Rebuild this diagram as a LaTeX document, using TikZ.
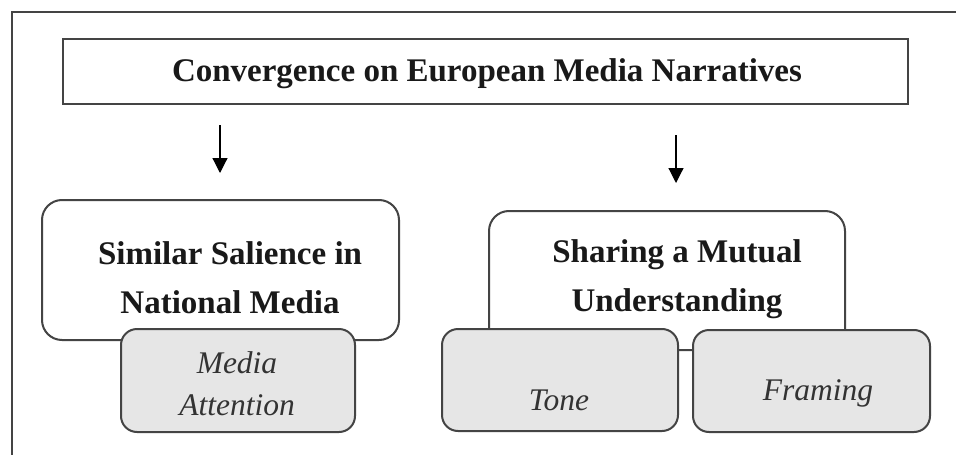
\documentclass[tikz,border=0pt]{standalone}
\usepackage{fontspec}
\setmainfont{Liberation Serif}
\usetikzlibrary{arrows.meta}
\definecolor{edge}{HTML}{444444}
\definecolor{panel}{HTML}{E6E6E6}
\tikzset{
  frame/.style={draw=edge, line width=2pt},
  titlebox/.style={draw=edge, line width=2.2pt, minimum width=845pt, minimum height=65pt, inner sep=0pt},
  mainbox/.style={draw=edge, line width=2pt, rounded corners=20pt, fill=white, inner sep=0pt},
  subbox/.style={draw=edge, line width=2pt, rounded corners=16pt, fill=panel, inner sep=0pt},
  boldtext/.style={font=\fontsize{33}{49}\selectfont\bfseries, align=center, text=black!90},
  itext/.style={font=\fontsize{31.5}{42}\selectfont\itshape, align=center, text=black!80},
  flow/.style={-{Triangle[width=15pt,length=15pt]}, line width=1.2pt, draw=black},
}
\begin{document}
\begin{tikzpicture}[x=1pt, y={(0,-1pt)}]
  \clip (0,0) rectangle (956,455);
  \fill[white] (0,0) rectangle (956,455);
  % outer frame, continuing past the right and bottom edges
  \draw[frame] (12,12) rectangle (1000,500);

  % heading
  \node[titlebox] (title) at (485.5,71.5) {};
  \node[boldtext] (titletext) at (487,74) {Convergence on European Media Narratives};

  % left branch
  \node[mainbox, minimum width=357pt, minimum height=140pt] (salience) at (220.5,270) {};
  \node[boldtext] (saliencetext) at (230,277.5) {Similar Salience in\\National Media};
  \node[subbox, minimum width=234pt, minimum height=103pt] (attention) at (238,380.5) {};
  \node[itext] (attentiontext) at (237,384) {Media\\Attention};

  % right branch
  \node[mainbox, minimum width=356pt, minimum height=139pt] (mutual) at (667,280.5) {};
  \node[boldtext] (mutualtext) at (677,279) {Sharing a Mutual\\Understanding};
  \node[subbox, minimum width=236pt, minimum height=102pt] (tone) at (560,380) {};
  \node[itext] (tonetext) at (559,400) {Tone};
  \node[subbox, minimum width=237pt, minimum height=102pt] (framing) at (811.5,381) {};
  \node[itext] (framingtext) at (818,393) {Framing};

  % arrows from the heading to each branch
  \coordinate (a1s) at (220,125);
  \coordinate (a1e) at (220,173);
  \coordinate (a2s) at (676,135);
  \coordinate (a2e) at (676,183);
  \draw[flow] (a1s) -- (a1e);
  \draw[flow] (a2s) -- (a2e);
\end{tikzpicture}
\end{document}
